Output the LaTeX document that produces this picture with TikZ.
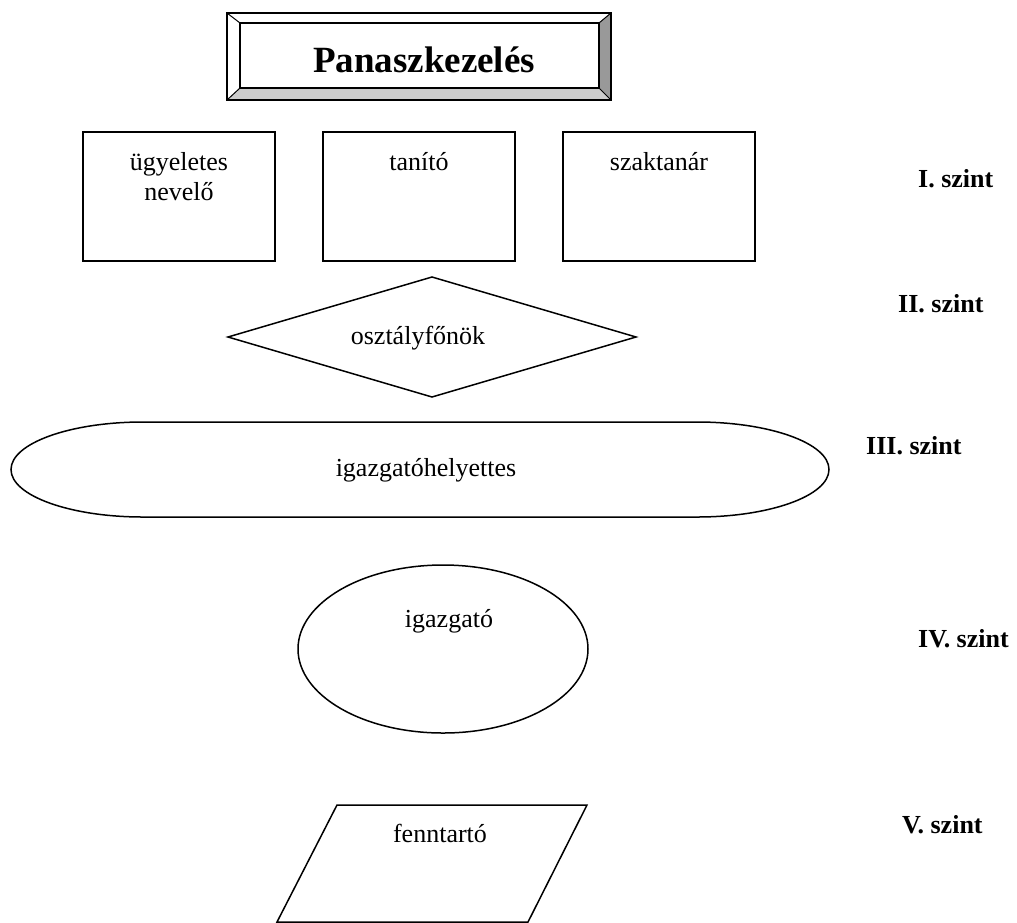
\documentclass[tikz,border=0pt]{standalone}
\usepackage{fontspec}
\setmainfont{Liberation Serif}
\begin{document}
\begin{tikzpicture}[x=1pt,y=-1pt,
  shape line/.style={draw=black,line width=1.5pt},
  body/.style={font=\fontsize{26}{30}\selectfont,anchor=base,inner sep=0pt},
  level/.style={font=\fontsize{26}{30}\selectfont\bfseries,anchor=base west,inner sep=0pt},
  title/.style={font=\fontsize{37}{42}\selectfont\bfseries,anchor=base,inner sep=0pt}]
\useasboundingbox (0,0) rectangle (1017,922);
% title bevel box
\fill[white] (227,13) rectangle (611,100);
\fill[black!40] (611,13) -- (599,23) -- (599,88) -- (611,100) -- cycle;
\fill[black!20] (227,100) -- (240,88) -- (599,88) -- (611,100) -- cycle;
\draw[line width=1.2pt] (227,13) rectangle (611,100);
\draw[line width=1.2pt] (240,23) rectangle (599,88);
\draw[line width=1pt] (227,13) -- (240,23) (611,13) -- (599,23) (227,100) -- (240,88) (611,100) -- (599,88);
\node[title] (t) at (424,72) {Panaszkezelés};
% level I boxes
\draw[shape line] (83,132) rectangle (275,261);
\draw[shape line] (323,132) rectangle (515,261);
\draw[shape line] (563,132) rectangle (755,261);
\node[body] (b1a) at (179,170) {ügyeletes};
\node[body] (b1b) at (179,200) {nevelő};
\node[body] (b2) at (419,170) {tanító};
\node[body] (b3) at (659,170) {szaktanár};
% diamond
\draw[shape line] (228,337) -- (432,277) -- (636,337) -- (432,397) -- cycle;
\node[body] (d) at (418,344) {osztályfőnök};
% terminator
\draw[shape line] (143,422) -- (697,422) arc[start angle=-90,end angle=90,x radius=132,y radius=47.5] -- (143,517) arc[start angle=90,end angle=270,x radius=132,y radius=47.5] -- cycle;
\node[body] (s) at (426,476) {igazgatóhelyettes};
% ellipse
\draw[shape line] (443,649) ellipse[x radius=145,y radius=84];
\node[body] (e) at (449,627) {igazgató};
% parallelogram
\draw[shape line] (337,805) -- (587,805) -- (528,922) -- (277,922) -- cycle;
\node[body] (p) at (440,842) {fenntartó};
% level labels
\node[level] (l1) at (918,187) {I. szint};
\node[level] (l2) at (898,312) {II. szint};
\node[level] (l3) at (866,454) {III. szint};
\node[level] (l4) at (918,647) {IV. szint};
\node[level] (l5) at (902,833) {V. szint};
\end{tikzpicture}
\end{document}
